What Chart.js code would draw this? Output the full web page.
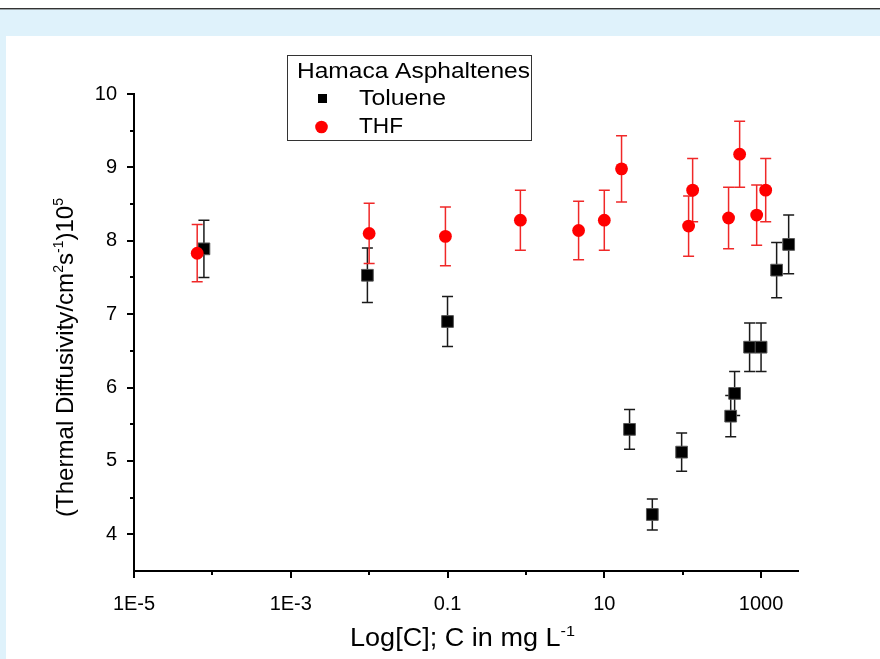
<!DOCTYPE html>
<html>
<head>
<meta charset="utf-8">
<script src="https://cdn.jsdelivr.net/npm/chart.js@4.4.0/dist/chart.umd.min.js"></script>
<style>
html,body{margin:0;padding:0;background:#fff;}
#wrap{position:relative;width:880px;height:659px;overflow:hidden;background:#fff;}
#topline{position:absolute;left:0;top:8px;width:880px;height:1px;background:#333;}
#topline2{position:absolute;left:0;top:9px;width:880px;height:1px;background:#9aa4a8;}
#band{position:absolute;left:0;top:10px;width:880px;height:26px;background:#DFF2FB;}
#strip{position:absolute;left:0;top:10px;width:6px;height:649px;background:#DFF2FB;}
canvas{position:absolute;left:0;top:0;}
</style>
</head>
<body>
<div id="wrap">
<div id="topline"></div><div id="topline2"></div><div id="band"></div><div id="strip"></div>
<canvas id="c" width="880" height="659"></canvas>
</div>
<script>
// ---- data ----
const tolueneC   = [7.8e-5, 0.0095, 0.1, 21, 41, 97, 410, 460, 714, 1000, 1580, 2250];
const tolueneD   = [7.89, 7.53, 6.90, 5.43, 4.27, 5.12, 5.61, 5.92, 6.55, 6.55, 7.60, 7.95];
const tolueneErr = [0.39, 0.37, 0.34, 0.27, 0.21, 0.26, 0.28, 0.30, 0.33, 0.33, 0.375, 0.40];

const thfC   = [6.4e-5, 0.01, 0.094, 0.85, 4.7, 10, 16.6, 119, 134, 385, 533, 879, 1146];
const thfD   = [7.83, 8.10, 8.06, 8.28, 8.14, 8.28, 8.98, 8.20, 8.69, 8.31, 9.18, 8.35, 8.69];
const thfErr = [0.39, 0.41, 0.40, 0.41, 0.40, 0.41, 0.45, 0.41, 0.43, 0.42, 0.45, 0.41, 0.43];

const xTickValues = [1e-5, 1e-3, 0.1, 10, 1000];
const xTickLabels = ['1E-5', '1E-3', '0.1', '10', '1000'];
const xMinorTicks = [1e-4, 1e-2, 1, 100];
const yTickValues = [4, 5, 6, 7, 8, 9, 10];
const yTickLabels = ['4', '5', '6', '7', '8', '9', '10'];
const yMinorTicks = [4.5, 5.5, 6.5, 7.5, 8.5, 9.5];

const legendTitle = 'Hamaca Asphaltenes';
const seriesNames = ['Toluene', 'THF'];

const FONT = "'Liberation Sans', Arial, Helvetica, sans-serif";

function drawRich(ctx, segs, x, y, align, size, targetW, angle) {
  ctx.save();
  ctx.translate(x, y);
  if (angle) ctx.rotate(angle);
  const supSize = Math.round(size * 0.6);
  const widths = segs.map(s => { ctx.font = (s.sup ? supSize : size) + 'px ' + FONT; return ctx.measureText(s.t).width; });
  const total = widths.reduce((a, b) => a + b, 0);
  const sx = targetW ? targetW / total : 1;
  if (align === 'center') ctx.translate(-total * sx / 2, 0);
  ctx.scale(sx, 1);
  ctx.fillStyle = '#000';
  ctx.textBaseline = 'alphabetic';
  ctx.textAlign = 'left';
  let cx = 0;
  segs.forEach((s, i) => {
    ctx.font = (s.sup ? supSize : size) + 'px ' + FONT;
    ctx.fillText(s.t, cx, s.sup ? -size * 0.42 : 0);
    cx += widths[i];
  });
  ctx.restore();
}

const errorBars = {
  id: 'errorBars',
  beforeDatasetDraw(chart, args) {
    const ds = chart.data.datasets[args.index];
    const xs = chart.scales.x, ys = chart.scales.y;
    const ctx = chart.ctx;
    ctx.save();
    ctx.strokeStyle = ds.errColor;
    ctx.lineWidth = 1.5;
    ds.data.forEach((p, i) => {
      const px = xs.getPixelForValue(p.x);
      const y1 = ys.getPixelForValue(p.y + ds.err[i]);
      const y2 = ys.getPixelForValue(p.y - ds.err[i]);
      ctx.beginPath();
      ctx.moveTo(px, y1); ctx.lineTo(px, y2);
      ctx.moveTo(px - 5.5, y1); ctx.lineTo(px + 5.5, y1);
      ctx.moveTo(px - 5.5, y2); ctx.lineTo(px + 5.5, y2);
      ctx.stroke();
    });
    ctx.restore();
  }
};

const decorations = {
  id: 'decorations',
  afterDraw(chart) {
    const ctx = chart.ctx;
    const xs = chart.scales.x, ys = chart.scales.y;
    const a = chart.chartArea;
    ctx.save();
    ctx.strokeStyle = '#000';
    ctx.lineWidth = 2;
    ctx.beginPath();
    yTickValues.forEach(v => { const p = Math.round(ys.getPixelForValue(v)); ctx.moveTo(a.left, p); ctx.lineTo(a.left - 7, p); });
    yMinorTicks.forEach(v => { const p = Math.round(ys.getPixelForValue(v)); ctx.moveTo(a.left, p); ctx.lineTo(a.left - 4, p); });
    xTickValues.forEach(v => { const p = Math.round(xs.getPixelForValue(v)); ctx.moveTo(p, a.bottom); ctx.lineTo(p, a.bottom + 7); });
    xMinorTicks.forEach(v => { const p = Math.round(xs.getPixelForValue(v)); ctx.moveTo(p, a.bottom); ctx.lineTo(p, a.bottom + 4); });
    ctx.stroke();
    ctx.restore();

    // axis titles
    drawRich(ctx, [{t: 'Log[C]; C in mg L'}, {t: '-1', sup: true}], 462.5, 646, 'center', 25, 225, 0);
    drawRich(ctx, [{t: '(Thermal Diffusivity/cm'}, {t: '2', sup: true}, {t: 's'}, {t: '-1', sup: true}, {t: ')10'}, {t: '5', sup: true}],
      73, 357.5, 'center', 24, 319, -Math.PI / 2);

    // legend
    ctx.save();
    ctx.fillStyle = '#fff';
    ctx.fillRect(287.5, 55.5, 244, 85);
    ctx.strokeStyle = '#333';
    ctx.lineWidth = 1;
    ctx.strokeRect(287.5, 55.5, 244, 85);
    ctx.restore();
    drawRich(ctx, [{t: legendTitle}], 297, 78, 'left', 22, 233, 0);
    const d0 = chart.data.datasets[0], d1 = chart.data.datasets[1];
    ctx.save();
    ctx.fillStyle = d0.backgroundColor;
    ctx.fillRect(318, 94, 9, 9);
    ctx.fillStyle = d1.backgroundColor;
    ctx.beginPath(); ctx.arc(321.5, 127, 6.3, 0, Math.PI * 2); ctx.fill();
    ctx.restore();
    drawRich(ctx, [{t: seriesNames[0]}], 359, 105, 'left', 22, 87, 0);
    drawRich(ctx, [{t: seriesNames[1]}], 359, 133, 'left', 22, 44, 0);
  }
};

new Chart(document.getElementById('c'), {
  type: 'scatter',
  data: {
    datasets: [
      {
        label: seriesNames[0],
        data: tolueneC.map((c, i) => ({x: c, y: tolueneD[i]})),
        err: tolueneErr,
        errColor: '#1a1a1a',
        pointStyle: 'rect',
        pointRadius: 8.3,
        backgroundColor: '#000',
        borderColor: '#555',
        borderWidth: 1,
        order: 2,
        clip: false
      },
      {
        label: seriesNames[1],
        data: thfC.map((c, i) => ({x: c, y: thfD[i]})),
        err: thfErr,
        errColor: '#f02828',
        pointStyle: 'circle',
        pointRadius: 6.4,
        backgroundColor: '#ff0000',
        borderColor: '#ff0000',
        borderWidth: 0,
        order: 1,
        clip: false
      }
    ]
  },
  options: {
    responsive: false,
    animation: false,
    devicePixelRatio: 1,
    layout: {padding: {left: 0, top: 94, right: 82, bottom: 0}},
    plugins: {legend: {display: false}, tooltip: {enabled: false}},
    scales: {
      x: {
        type: 'logarithmic',
        min: 1e-5,
        max: 2960,
        afterBuildTicks: s => { s.ticks = xTickValues.map(v => ({value: v})); },
        afterFit: s => { s.height = 88; },
        ticks: {
          callback: (v, i) => xTickLabels[i],
          font: {family: FONT, size: 20},
          color: '#000',
          padding: 21,
          maxRotation: 0,
          autoSkip: false
        },
        grid: {display: false, drawTicks: false},
        border: {display: true, color: '#000', width: 2}
      },
      y: {
        min: 3.5,
        max: 10,
        afterBuildTicks: s => { s.ticks = yTickValues.map(v => ({value: v})); },
        afterFit: s => { s.width = 134; },
        ticks: {
          callback: (v, i) => yTickLabels[i],
          font: {family: FONT, size: 20},
          color: '#000',
          padding: 17,
          autoSkip: false
        },
        grid: {display: false, drawTicks: false},
        border: {display: true, color: '#000', width: 2}
      }
    }
  },
  plugins: [errorBars, decorations]
});
</script>
</body>
</html>
